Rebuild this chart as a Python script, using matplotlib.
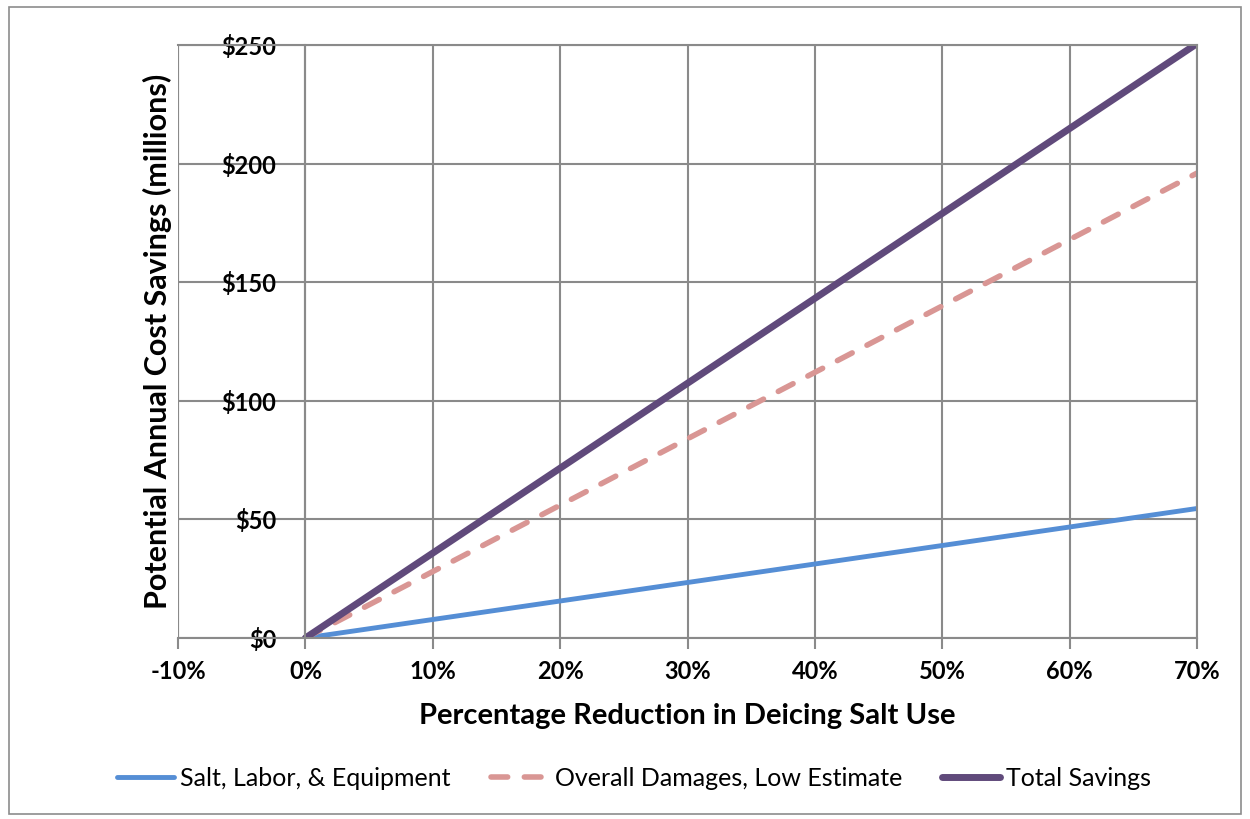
import matplotlib.pyplot as plt
from matplotlib.patches import Rectangle
from matplotlib.ticker import FuncFormatter

plt.rcParams['font.family'] = ['Lato', 'DejaVu Sans']

# data
reduction = [0.0, 0.1, 0.2, 0.3, 0.4, 0.5, 0.6, 0.7]
salt_labor = [0, 7.8, 15.6, 23.4, 31.2, 39.0, 46.8, 54.6]
damages_low = [0, 28.0, 56.0, 84.0, 112.0, 140.0, 168.0, 196.0]
total_savings = [0, 35.8, 71.6, 107.4, 143.2, 179.0, 214.8, 250.6]

x_ticks = [-0.1, 0.0, 0.1, 0.2, 0.3, 0.4, 0.5, 0.6, 0.7]
y_ticks = [0, 50, 100, 150, 200, 250]

grid_col = '#8a8a8a'

fig = plt.figure(figsize=(12.5, 8.19), dpi=100)
ax = fig.add_axes([0.1424, 0.221, 0.8152, 0.724])

# outer chart border
fig.patches.append(Rectangle((0.007, 0.006), 0.986, 0.985, transform=fig.transFigure,
                             fill=False, edgecolor='#8c8c8c', linewidth=1.2))

ax.plot(reduction, salt_labor, color='#558ED5', linewidth=3.5,
        label='Salt, Labor, & Equipment', solid_capstyle='round')
ax.plot(reduction, damages_low, color='#D99694', linewidth=4, linestyle=(0, (3, 3)),
        dash_capstyle='round', label='Overall Damages, Low Estimate')
ax.plot(reduction, total_savings, color='#604A7B', linewidth=5,
        label='Total Savings', solid_capstyle='round')

ax.set_xlim(-0.1, 0.7)
ax.set_ylim(0, 250)
ax.set_xticks(x_ticks)
ax.set_yticks(y_ticks)
ax.xaxis.set_major_formatter(FuncFormatter(lambda v, p: '{:.0f}%'.format(v * 100)))
ax.yaxis.set_major_formatter(FuncFormatter(lambda v, p: '${:.0f}'.format(v)))

ax.grid(True, color=grid_col, linewidth=1.5)
ax.set_axisbelow(True)
for s in ax.spines.values():
    s.set_color(grid_col)
    s.set_linewidth(1.5)
# vertical axis crosses at 0%
ax.spines['left'].set_position(('data', 0))

ax.tick_params(axis='x', length=8, width=1.5, color=grid_col, pad=8,
               labelsize=17)
ax.tick_params(axis='y', length=0, pad=21, labelsize=17)
for lbl in ax.get_xticklabels() + ax.get_yticklabels():
    lbl.set_fontweight('bold')

# left border at -10%
ax.axvline(-0.1, color=grid_col, linewidth=1.5, zorder=0)

ax.set_xlabel('Percentage Reduction in Deicing Salt Use', fontsize=21,
              fontweight='bold', labelpad=14)
ax.set_ylabel('Potential Annual Cost Savings (millions)', fontsize=22,
              fontweight='bold')
ax.yaxis.set_label_coords(-0.006, 0.5)

leg = fig.legend(loc='center', bbox_to_anchor=(0.507, 0.05), ncol=3, frameon=False,
                 prop={'size': 18}, handlelength=2.3,
                 handletextpad=0.25, columnspacing=1.6)

fig.savefig('out.png', dpi=100)
